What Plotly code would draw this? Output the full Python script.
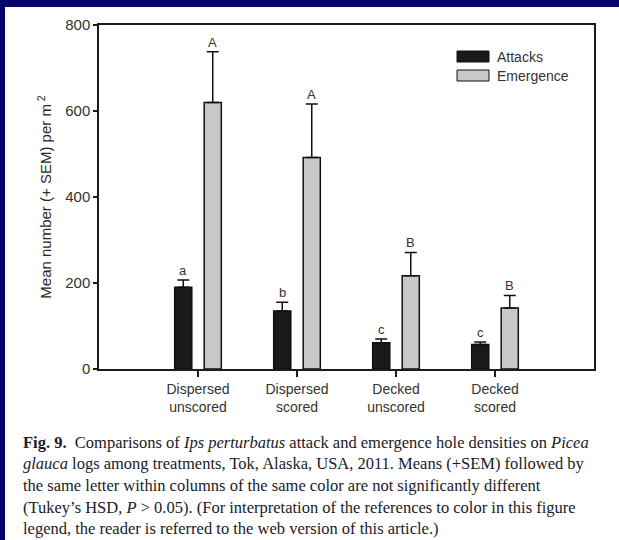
import plotly.graph_objects as go

# ---------------- data ----------------
categories = ["Dispersed<br>unscored", "Dispersed<br>scored", "Decked<br>unscored", "Decked<br>scored"]
attacks = [190, 135, 61, 57]
attacks_sem = [17, 20, 9, 6]
emergence = [620, 492, 217, 142]
emergence_sem = [118, 124, 54, 29]
attack_letters = ["a", "b", "c", "c"]
emergence_letters = ["A", "A", "B", "B"]
y_ticks = [0, 200, 400, 600, 800]

caption_lines = [
    "<b>Fig. 9.</b>  Comparisons of <i>Ips perturbatus</i> attack and emergence hole densities on <i>Picea</i>",
    "<i>glauca</i> logs among treatments, Tok, Alaska, USA, 2011. Means (+SEM) followed by",
    "the same letter within columns of the same color are not significantly different",
    "(Tukey\u2019s HSD, <i>P</i> > 0.05). (For interpretation of the references to color in this figure",
    "legend, the reader is referred to the web version of this article.)",
]

# ---------------- layout geometry ----------------
W, H = 619, 540
L, R, T, B = 99, 25, 25, 171
PW, PH = W - L - R, H - T - B

def px(x):
    return (x - L) / PW

def py(y):
    return (H - B - y) / PH

xpos = list(range(len(categories)))
BARGAP = 0.404
GROUPGAP = 0.42
slot = (1 - BARGAP) / 2
offset = slot / 2

AX = "#1c1c1c"
TXT = "#333333"
FONT = "Liberation Sans, Arial, sans-serif"

fig = go.Figure()
fig.add_trace(go.Bar(
    x=xpos, y=attacks, name="Attacks",
    marker=dict(color="#1a1a1a", line=dict(color="#111111", width=1.5)),
    error_y=dict(type="data", symmetric=False, array=attacks_sem,
                 arrayminus=[0] * len(attacks), color="#111111", thickness=1.5, width=6),
    showlegend=False,
))
fig.add_trace(go.Bar(
    x=xpos, y=emergence, name="Emergence",
    marker=dict(color="#c8c8c8", line=dict(color="#111111", width=1.5)),
    error_y=dict(type="data", symmetric=False, array=emergence_sem,
                 arrayminus=[0] * len(emergence), color="#111111", thickness=1.5, width=6),
    showlegend=False,
))

annotations = []
for i in xpos:
    annotations.append(dict(x=i - offset, y=attacks[i] + attacks_sem[i], xref="x", yref="y",
                            text=attack_letters[i], showarrow=False, yanchor="bottom",
                            font=dict(family=FONT, size=13, color=TXT)))
    annotations.append(dict(x=i + offset, y=emergence[i] + emergence_sem[i], xref="x", yref="y",
                            text=emergence_letters[i], showarrow=False, yanchor="bottom",
                            font=dict(family=FONT, size=13, color=TXT)))

# legend (drawn manually)
shapes = [
    dict(type="rect", xref="paper", yref="paper", x0=px(457), x1=px(489), y0=py(62), y1=py(51),
         fillcolor="#1a1a1a", line=dict(color="#111111", width=1)),
    dict(type="rect", xref="paper", yref="paper", x0=px(457), x1=px(489), y0=py(81), y1=py(70),
         fillcolor="#c8c8c8", line=dict(color="#111111", width=1)),
    # navy frame strips
    dict(type="rect", xref="paper", yref="paper", x0=px(0), x1=px(W), y0=py(0), y1=py(7),
         fillcolor="#04046a", line=dict(width=0), layer="above"),
    dict(type="rect", xref="paper", yref="paper", x0=px(0), x1=px(5), y0=py(0), y1=py(H),
         fillcolor="#04046a", line=dict(width=0), layer="above"),
]
annotations.append(dict(x=px(495), y=py(57), xref="paper", yref="paper", text="Attacks",
                        showarrow=False, xanchor="left", yanchor="middle",
                        font=dict(family=FONT, size=14, color=TXT)))
annotations.append(dict(x=px(495), y=py(76), xref="paper", yref="paper", text="Emergence",
                        showarrow=False, xanchor="left", yanchor="middle",
                        font=dict(family=FONT, size=14, color=TXT)))

cap_y = [442, 463, 485, 507, 528]
for line, yy in zip(caption_lines, cap_y):
    annotations.append(dict(x=px(21), y=py(yy), xref="paper", yref="paper", text=line,
                            showarrow=False, xanchor="left", yanchor="middle",
                            font=dict(family="Liberation Serif, Times New Roman, serif",
                                      size=16.5, color="#1a1a26")))

fig.update_layout(
    width=W, height=H,
    margin=dict(l=L, r=R, t=T, b=B, pad=0),
    paper_bgcolor="white", plot_bgcolor="white",
    barmode="group", bargap=BARGAP, bargroupgap=GROUPGAP,
    shapes=shapes, annotations=annotations,
    font=dict(family=FONT, color=TXT),
)
fig.update_xaxes(
    range=[-1, 4], tickvals=xpos, ticktext=categories,
    showline=True, linecolor=AX, linewidth=1.5, mirror=True,
    ticks="outside", ticklen=6, tickwidth=1.5, tickcolor=AX,
    showgrid=False, zeroline=False,
    tickfont=dict(family=FONT, size=14, color=TXT),
)
fig.update_yaxes(
    range=[0, 800], tickvals=y_ticks,
    showline=True, linecolor=AX, linewidth=1.5, mirror=True,
    ticks="outside", ticklen=4, tickwidth=1.5, tickcolor=AX,
    showgrid=False, zeroline=False,
    tickfont=dict(family=FONT, size=15, color=TXT),
    title=dict(text="Mean number (+ SEM) per m<sup> 2</sup>", standoff=10,
               font=dict(family=FONT, size=15, color="#2a2a2a")),
)

fig.write_html("out.html")
